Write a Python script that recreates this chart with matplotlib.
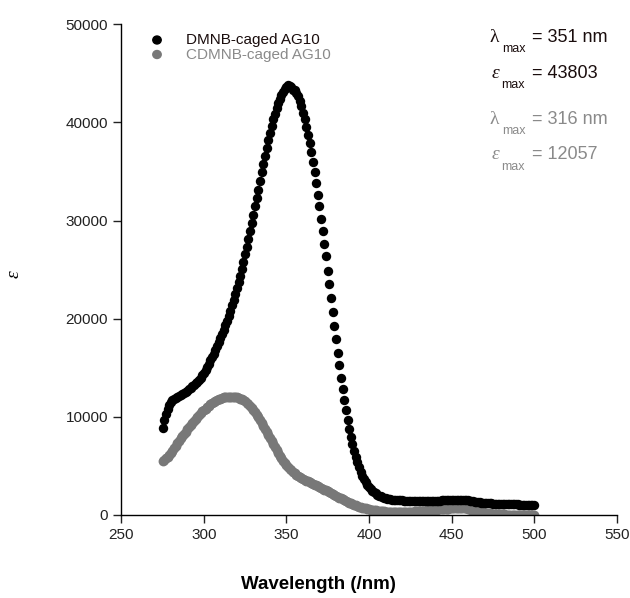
import numpy as np
import matplotlib
matplotlib.use("Agg")
import matplotlib.pyplot as plt

# wavelengths, 1 nm steps
wl_start, wl_stop = 275, 500

# DMNB-caged AG10 extinction coefficient, 275..500 nm
dmnb = [
    8900, 9700, 10300, 10800, 11200, 11500, 11700, 11850, 11950, 12050,
    12150, 12250, 12350, 12450, 12550, 12650, 12800, 12950, 13100, 13250,
    13400, 13600, 13800, 14000, 14250, 14500, 14800, 15100, 15400, 15750,
    16100, 16450, 16800, 17200, 17600, 18000, 18450, 18900, 19350, 19800,
    20300, 20800, 21350, 21900, 22500, 23100, 23750, 24400, 25100, 25800,
    26550, 27300, 28100, 28900, 29750, 30600, 31450, 32300, 33150, 34000,
    34900, 35750, 36600, 37400, 38200, 38950, 39650, 40300, 40900, 41450,
    41950, 42400, 42800, 43150, 43450, 43650, 43800, 43750, 43600, 43350,
    43300, 43000, 42650, 42200, 41650, 41000, 40300, 39550, 38750, 37900,
    36950, 35950, 34900, 33800, 32650, 31450, 30200, 28950, 27650, 26350,
    24900, 23500, 22100, 20700, 19300, 17900, 16550, 15250, 14000, 12800,
    11700, 10650, 9700, 8800, 7950, 7200, 6500, 5900, 5350, 4850,
    4400, 4000, 3650, 3350, 3100, 2850, 2650, 2480, 2330, 2200,
    2080, 1980, 1890, 1820, 1760, 1710, 1670, 1630, 1600, 1570,
    1550, 1530, 1510, 1500, 1490, 1480, 1470, 1460, 1455, 1450,
    1445, 1440, 1435, 1430, 1430, 1430, 1430, 1430, 1430, 1430,
    1430, 1430, 1430, 1435, 1440, 1445, 1450, 1460, 1470, 1480,
    1490, 1500, 1510, 1520, 1530, 1540, 1550, 1555, 1560, 1560,
    1560, 1555, 1545, 1530, 1510, 1490, 1460, 1430, 1400, 1370,
    1340, 1310, 1290, 1270, 1250, 1235, 1220, 1205, 1190, 1180,
    1170, 1160, 1150, 1140, 1130, 1120, 1115, 1110, 1105, 1100,
    1095, 1090, 1085, 1080, 1075, 1070, 1065, 1060, 1058, 1055,
    1052, 1050, 1048, 1046, 1044, 1042,
]

# CDMNB-caged AG10, 275..500 nm
cdmnb = [
    5500, 5650, 5800, 5950, 6150, 6350, 6550, 6800, 7050, 7300,
    7550, 7800, 8050, 8300, 8500, 8750, 8950, 9200, 9400, 9600,
    9800, 10000, 10200, 10400, 10550, 10700, 10850, 11000, 11150, 11300,
    11400, 11500, 11600, 11700, 11800, 11870, 11930, 11980, 12020, 12050,
    12060, 12070, 12070, 12050, 12020, 11980, 11930, 11870, 11800, 11720,
    11600, 11450, 11300, 11120, 10920, 10700, 10450, 10200, 9950, 9650,
    9350, 9050, 8750, 8450, 8150, 7850, 7550, 7250, 6950, 6650,
    6350, 6050, 5800, 5550, 5300, 5100, 4900, 4700, 4550, 4400,
    4250, 4100, 3980, 3870, 3770, 3680, 3590, 3500, 3420, 3340,
    3260, 3180, 3100, 3020, 2940, 2860, 2770, 2680, 2590, 2500,
    2410, 2320, 2230, 2140, 2050, 1960, 1870, 1780, 1690, 1600,
    1510, 1430, 1350, 1270, 1190, 1120, 1050, 980, 920, 860,
    810, 760, 710, 670, 630, 590, 550, 520, 490, 460,
    440, 420, 400, 380, 365, 350, 340, 330, 320, 315,
    310, 305, 300, 300, 300, 300, 305, 310, 315, 320,
    330, 340, 350, 360, 375, 390, 400, 415, 430, 445,
    460, 475, 490, 505, 520, 535, 550, 565, 580, 595,
    610, 625, 640, 655, 670, 685, 700, 710, 720, 730,
    735, 735, 730, 715, 690, 650, 600, 550, 500, 450,
    400, 360, 320, 285, 255, 225, 200, 175, 155, 135,
    120, 105, 95, 85, 75, 65, 58, 52, 46, 40,
    35, 30, 26, 22, 18, 15, 12, 9, 6, 4,
    2, 1, 0, 0, 0, 0,
]

labels = ["DMNB-caged AG10", "CDMNB-caged AG10"]
lam_max = ["351 nm", "316 nm"]
eps_max = ["43803", "12057"]
xticks = [250, 300, 350, 400, 450, 500, 550]
yticks = [0, 10000, 20000, 30000, 40000, 50000]

wl = np.arange(wl_start, wl_stop + 1)

plt.rcParams['font.family'] = ['Liberation Sans', 'DejaVu Sans']

W, H = 630, 598
fig = plt.figure(figsize=(W / 100, H / 100), dpi=100)
ax = fig.add_axes([121.3 / W, 1 - 515 / H, (616.7 - 121.3) / W, (515 - 24.3) / H])

gray = "#787878"
ax.scatter(wl, cdmnb, s=50, color=gray, linewidths=0, zorder=2)
ax.scatter(wl, dmnb, s=46, color="black", linewidths=0, zorder=3)

ax.set_xlim(250, 550)
ax.set_ylim(0, 50000)
ax.set_xticks(xticks)
ax.set_yticks(yticks)
ax.tick_params(labelsize=11, length=6, width=1.0, direction="out", colors="#222222")
for s in ["top", "right"]:
    ax.spines[s].set_visible(False)
for s in ["left", "bottom"]:
    ax.spines[s].set_linewidth(1.0)

ax.set_xlabel("Wavelength (/nm)", fontsize=13.5, fontweight="bold")
ax.xaxis.set_label_coords(0.397, -0.125, transform=ax.transAxes)
ax.xaxis.label.set_verticalalignment("top")
ax.set_ylabel("ε", fontsize=14, family=["Liberation Serif", "DejaVu Serif"], style="italic")
ax.yaxis.set_label_coords(-0.2, 0.49)


def px(x, y):
    return x / W, 1 - y / H


# legend drawn by hand
for i, (lab, c, tc) in enumerate(zip(labels, ["black", gray], ["#1a0d0d", "#8a8a8a"])):
    y = 40 + 14.5 * i
    fig.text(*px(186, y), lab, fontsize=11, color=tc, va="center", ha="left")
    fig.patches.append(plt.Circle(px(157, y), 4.2 / W, transform=fig.transFigure,
                                  color=c, figure=fig))

# lambda/epsilon annotations
cols = ["#1a0d0d", "#8a8a8a"]
rows = [(37, 73), (119, 155)]
for k in range(2):
    yl, ye = rows[k]
    c = cols[k]
    fig.text(*px(490, yl), "λ", fontsize=14, color=c, va="center", ha="left",
             family=["Liberation Serif", "DejaVu Serif"])
    fig.text(*px(502, yl + 12), "max", fontsize=9, color=c, va="center", ha="left")
    fig.text(*px(532, yl), "= " + lam_max[k], fontsize=13, color=c, va="center", ha="left")
    fig.text(*px(492, ye), "ε", fontsize=14, color=c, va="center", ha="left",
             style="italic", family=["Liberation Serif", "DejaVu Serif"])
    fig.text(*px(501, ye + 12), "max", fontsize=9, color=c, va="center", ha="left")
    fig.text(*px(532, ye), "= " + eps_max[k], fontsize=13, color=c, va="center", ha="left")

fig.savefig("out.png", dpi=100)
